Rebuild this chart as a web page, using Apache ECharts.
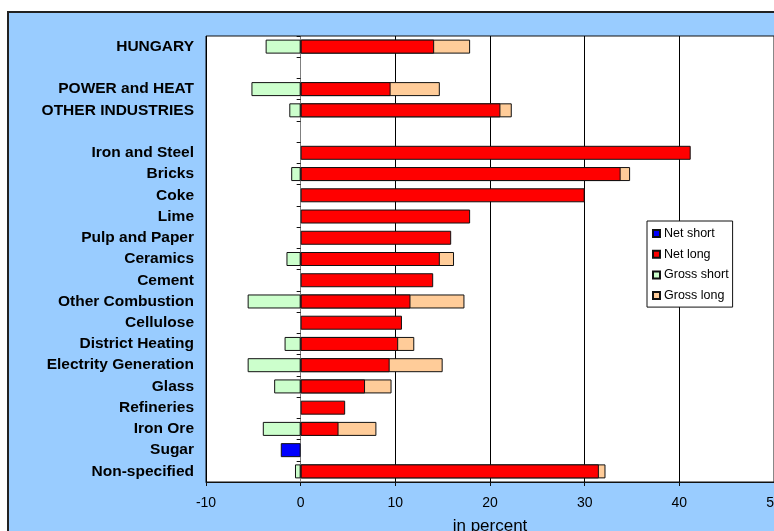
<!DOCTYPE html>
<html>
<head>
<meta charset="utf-8">
<script src="https://cdn.jsdelivr.net/npm/echarts@6/dist/echarts.min.js"></script>
<style>
html,body{margin:0;padding:0;background:#fff;overflow:hidden;width:774px;height:531px;}
#frame{position:absolute;left:7px;top:11px;width:900px;height:700px;background:#99ccff;border:2px solid #222;}
#chart{position:absolute;left:0;top:0;width:774px;height:531px;}
</style>
</head>
<body>
<div id="frame"></div>
<div id="chart"></div>
<script>
const categories = ['HUNGARY', ' ', 'POWER and HEAT', 'OTHER INDUSTRIES', '  ', 'Iron and Steel', 'Bricks', 'Coke', 'Lime', 'Pulp and Paper', 'Ceramics', 'Cement', 'Other Combustion', 'Cellulose', 'District Heating', 'Electrity Generation', 'Glass', 'Refineries', 'Iron Ore', 'Sugar', 'Non-specified'];
const netShort   = [null, null, null, null, null, null, null, null, null, null, null, null, null, null, null, null, null, null, null, -2.1, null];
const netLong    = [14.1, null, 9.5, 21.1, null, 41.2, 33.8, 30.0, 17.9, 15.9, 14.7, 14.0, 11.6, 10.7, 10.3, 9.4, 6.8, 4.7, 4.0, null, 31.5];
const grossShort = [-3.7, null, -5.2, -1.2, null, null, -1.0, null, null, null, -1.5, null, -5.6, null, -1.7, -5.6, -2.8, null, -4.0, null, -0.6];
const grossLong  = [17.9, null, 14.7, 22.3, null, null, 34.8, null, null, null, 16.2, null, 17.3, null, 12.0, 15.0, 9.6, null, 8.0, null, 32.2];
const xTicks = {min: -10, max: 50, interval: 10};

const font = '"Liberation Sans", Arial, sans-serif';
const chart = echarts.init(document.getElementById('chart'), null, {renderer: 'canvas'});
function bar(name, data, color, z) {
  return {
    name: name, type: 'bar', data: data, yAxisIndex: 0,
    barWidth: 14, barGap: '-100%', z: z,
    itemStyle: {color: color, borderColor: '#111', borderWidth: 1},
    emphasis: {disabled: true}
  };
}
chart.setOption({
  animation: false,
  backgroundColor: 'transparent',
  grid: {left: 206, right: 0, top: 36, bottom: 49, show: true, backgroundColor: '#fff', borderColor: '#111', borderWidth: 1, containLabel: false, outerBoundsMode: 'none'},
  legend: {
    orient: 'vertical', left: 647, top: 221,
    data: ['Net short', 'Net long', 'Gross short', 'Gross long'],
    icon: 'rect', itemWidth: 7, itemHeight: 7, itemGap: 7.7,
    backgroundColor: '#fff', borderColor: '#111', borderWidth: 1,
    padding: [6, 4, 5, 5],
    textStyle: {fontFamily: font, fontSize: 12.5, color: '#000', padding: [0, 0, 0, -1]},
    selectedMode: false
  },
  xAxis: {
    type: 'value', min: xTicks.min, max: xTicks.max, interval: xTicks.interval,
    name: 'in percent', nameLocation: 'middle', nameGap: 36,
    nameTextStyle: {fontFamily: font, fontSize: 17, color: '#000'},
    axisLine: {show: true, lineStyle: {color: '#111', width: 1}},
    axisTick: {show: true, length: 4, lineStyle: {color: '#111'}},
    axisLabel: {fontFamily: font, fontSize: 14, color: '#000', margin: 14},
    splitLine: {show: true, lineStyle: {color: '#000', width: 1}}
  },
  yAxis: [{
    type: 'category', data: categories, inverse: true, position: 'left',
    axisLine: {show: false, onZero: false},
    axisTick: {show: false},
    axisLabel: {fontFamily: font, fontSize: 15.5, fontWeight: 'bold', color: '#000', margin: 12},
    splitLine: {show: false}
  }, {
    type: 'category', data: categories, inverse: true, position: 'right',
    axisLine: {show: true, onZero: true, lineStyle: {color: '#808080', width: 1}},
    axisTick: {show: true, inside: true, length: 4, lineStyle: {color: '#111'}},
    axisLabel: {show: false},
    splitLine: {show: false}
  }],
  series: [
    bar('Gross short', grossShort, '#ccffcc', 2),
    bar('Gross long', grossLong, '#ffcc99', 2),
    bar('Net long', netLong, '#ff0000', 3),
    bar('Net short', netShort, '#0000ff', 3)
  ]
});
</script>
</body>
</html>
